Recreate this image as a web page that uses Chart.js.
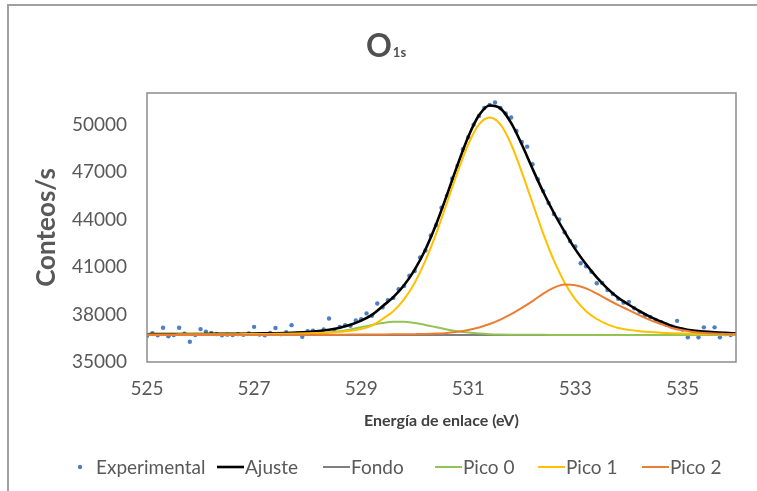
<!DOCTYPE html>
<html>
<head>
<meta charset="utf-8">
<script src="https://cdn.jsdelivr.net/npm/chart.js@4.4.1/dist/chart.umd.min.js"></script>
<style>
  html, body { margin: 0; padding: 0; background: #fff; }
  #wrap { position: relative; width: 757px; height: 491px; overflow: hidden; }
  #frame { position: absolute; left: 7px; top: 4px; width: 820px; height: 620px; border: 2px solid #a0a0a0; box-sizing: border-box; }
  canvas { position: absolute; left: 0; top: 0; }
</style>
</head>
<body>
<div id="wrap">
  <div id="frame"></div>
  <canvas id="grafico" width="757" height="491"></canvas>
</div>
<script>
// Energia de enlace (eV) para las curvas del ajuste
const energia = [525, 525.2, 525.4, 525.6, 525.8, 526, 526.2, 526.4, 526.6, 526.8,
  527, 527.2, 527.4, 527.6, 527.8, 528, 528.2, 528.4, 528.6, 528.8,
  529, 529.2, 529.4, 529.6, 529.8, 530, 530.2, 530.4, 530.6, 530.8,
  531, 531.2, 531.4, 531.6, 531.8, 532, 532.2, 532.4, 532.6, 532.8,
  533, 533.2, 533.4, 533.6, 533.8, 534, 534.2, 534.4, 534.6, 534.8,
  535, 535.2, 535.4, 535.6, 535.8, 536];

const ajuste = [36758, 36760, 36764, 36766, 36769, 36772, 36775, 36779, 36784, 36790,
  36797, 36806, 36817, 36832, 36855, 36893, 36952, 37043, 37170, 37358,
  37614, 37978, 38525, 39100, 39848, 40839, 42113, 43703, 45543, 47451,
  49236, 50588, 51211, 51029, 50107, 48741, 47214, 45743, 44416, 43226,
  42116, 41173, 40348, 39639, 39059, 38618, 38208, 37848, 37557, 37277,
  37107, 36992, 36918, 36870, 36838, 36813];

const fondo = [36700, 36700, 36700, 36700, 36700, 36700, 36700, 36700, 36700, 36700,
  36700, 36700, 36700, 36700, 36700, 36700, 36700, 36700, 36700, 36700,
  36700, 36700, 36700, 36700, 36700, 36700, 36700, 36700, 36700, 36700,
  36700, 36700, 36700, 36700, 36700, 36700, 36700, 36700, 36700, 36700,
  36700, 36700, 36700, 36700, 36700, 36700, 36700, 36700, 36700, 36700,
  36700, 36700, 36700, 36700, 36700, 36700];

const pico0 = [36708, 36708, 36709, 36709, 36709, 36710, 36710, 36711, 36712, 36713,
  36715, 36717, 36721, 36728, 36739, 36761, 36798, 36857, 36942, 37057,
  37200, 37340, 37465, 37540, 37540, 37465, 37340, 37200, 37057, 36942,
  36857, 36798, 36761, 36739, 36728, 36722, 36718, 36715, 36713, 36712,
  36711, 36710, 36710, 36709, 36709, 36708, 36708, 36708, 36707, 36707,
  36707, 36707, 36706, 36706, 36706, 36706];

const pico1 = [36740, 36742, 36744, 36746, 36748, 36750, 36752, 36755, 36758, 36762,
  36766, 36772, 36778, 36785, 36795, 36810, 36830, 36860, 36900, 36970,
  37080, 37300, 37718, 38213, 38955, 40014, 41403, 43108, 45046, 46999,
  48759, 50010, 50450, 50010, 48759, 46999, 45046, 43108, 41403, 40014,
  38955, 38213, 37718, 37380, 37150, 37030, 36950, 36890, 36850, 36820,
  36800, 36785, 36772, 36764, 36757, 36752];

const pico2 = [36710, 36710, 36711, 36711, 36712, 36712, 36713, 36713, 36714, 36715,
  36716, 36717, 36718, 36719, 36721, 36722, 36724, 36726, 36728, 36731,
  36734, 36738, 36742, 36747, 36753, 36760, 36770, 36795, 36840, 36910,
  37020, 37180, 37400, 37680, 38020, 38420, 38850, 39320, 39700, 39900,
  39850, 39650, 39320, 38950, 38600, 38280, 37950, 37650, 37400, 37150,
  37000, 36900, 36840, 36800, 36775, 36755];

// Puntos experimentales
const energiaExp = [525.0, 525.1, 525.2, 525.3, 525.4, 525.5, 525.6, 525.7, 525.8, 525.9,
  526.0, 526.1, 526.2, 526.3, 526.4, 526.5, 526.6, 526.7, 526.8, 526.9,
  527.0, 527.1, 527.2, 527.3, 527.4, 527.5, 527.6, 527.7, 527.8, 527.9,
  528.0, 528.1, 528.2, 528.3, 528.4, 528.5, 528.6, 528.7, 528.8, 528.9,
  529.0, 529.1, 529.2, 529.3, 529.4, 529.5, 529.6, 529.7, 529.8, 529.9,
  530.0, 530.1, 530.2, 530.3, 530.4, 530.5, 530.6, 530.7, 530.8, 530.9,
  531.0, 531.1, 531.2, 531.3, 531.4, 531.5, 531.6, 531.7, 531.8, 531.9,
  532.0, 532.1, 532.2, 532.3, 532.4, 532.5, 532.6, 532.7, 532.8, 532.9,
  533.0, 533.1, 533.2, 533.3, 533.4, 533.5, 533.6, 533.7, 533.8, 533.9,
  534.0, 534.1, 534.2, 534.3, 534.4, 534.5, 534.6, 534.7, 534.8, 534.9,
  535.0, 535.1, 535.2, 535.3, 535.4, 535.5, 535.6, 535.7, 535.8, 535.9, 536.0];

const conteosExp = [36650, 36820, 36690, 37160, 36620, 36700, 37160, 36790, 36280, 36710,
  37080, 36920, 36840, 36760, 36690, 36730, 36700, 36760, 36720, 36800,
  37220, 36740, 36690, 36830, 37150, 36760, 36880, 37330, 36790, 36600,
  36940, 36980, 36890, 37060, 37750, 37020, 37210, 37330, 37290, 37620,
  37700, 38070, 37920, 38700, 38450, 38900, 39050, 39600, 39800, 40450,
  40750, 41600, 42050, 43000, 43650, 44750, 45500, 46600, 47400, 48450,
  49200, 50000, 50550, 51050, 51250, 51400, 51050, 50700, 50450, 49600,
  48900, 48610, 47500, 46550, 45800, 45050, 44350, 44010, 43200, 42650,
  42300, 41240, 41050, 40700, 39980, 40000, 39550, 39300, 39000, 38750,
  38800, 38400, 38170, 37950, 37850, 37650, 37500, 37350, 37250, 37600,
  37050, 36560, 36900, 36560, 37190, 36800, 37190, 36560, 36760, 36700, 36780];

const ticksX = [525, 527, 529, 531, 533, 535];
const ticksY = [35000, 38000, 41000, 44000, 47000, 50000];

const gris = '#595959';
Chart.defaults.font.family = 'Lato, "Open Sans", sans-serif';

function serie(valores) {
    return valores.map(function(v, i) { return {x: energia[i], y: v}; });
}

function linea(label, valores, color, ancho, orden) {
    return {
        label: label,
        data: serie(valores),
        borderColor: color,
        backgroundColor: color,
        borderWidth: ancho,
        pointRadius: 0,
        showLine: true,
        cubicInterpolationMode: 'monotone',
        order: orden
    };
}

// titulo, marco del area y leyenda
const decorado = {
    id: 'decorado',
    afterDatasetsDraw(chart) {
        const ctx = chart.ctx, a = chart.chartArea;
        ctx.save();
        ctx.strokeStyle = '#8c8c8c';
        ctx.lineWidth = 1.5;
        ctx.strokeRect(a.left, a.top, a.right - a.left, a.bottom - a.top);
        ctx.restore();
    },
    afterDraw(chart) {
        const ctx = chart.ctx;
        ctx.save();
        ctx.fillStyle = '#505050';
        ctx.textBaseline = 'alphabetic';
        ctx.font = 'bold 32px Lato';
        ctx.fillText('O', 366, 57);
        const w = ctx.measureText('O').width;
        ctx.font = 'bold 13px Lato';
        ctx.fillText('1s', 366 + w + 1, 57);

        // leyenda
        const inicios = [77, 217, 323, 435, 538, 642];
        const y = 467;
        ctx.font = '19px Lato';
        ctx.textBaseline = 'middle';
        chart.data.datasets.forEach(function(ds, i) {
            const x0 = inicios[i];
            let xt;
            if (ds.showLine === false) {
                ctx.fillStyle = ds.backgroundColor;
                ctx.beginPath();
                ctx.arc(x0 + 3, y, 2.2, 0, Math.PI * 2);
                ctx.fill();
                xt = x0 + 19;
            } else {
                ctx.strokeStyle = ds.borderColor;
                ctx.lineWidth = ds.borderWidth;
                ctx.beginPath();
                ctx.moveTo(x0, y);
                ctx.lineTo(x0 + 27, y);
                ctx.stroke();
                xt = x0 + 28;
            }
            ctx.fillStyle = gris;
            ctx.fillText(ds.label, xt, y + 1);
        });
        ctx.restore();
    }
};

new Chart(document.getElementById('grafico'), {
    type: 'scatter',
    data: {
        datasets: [
            {
                label: 'Experimental',
                data: energiaExp.map(function(x, i) { return {x: x, y: conteosExp[i]}; }),
                showLine: false,
                pointRadius: 2.2,
                pointBorderWidth: 0,
                backgroundColor: '#4f7fc0',
                borderColor: '#4f7fc0',
                order: 6
            },
            linea('Ajuste', ajuste, '#000000', 2.6, 5),
            linea('Fondo', fondo, '#7f7f7f', 2, 4),
            linea('Pico 0', pico0, '#92c353', 2, 3),
            linea('Pico 1', pico1, '#ffc000', 2, 2),
            linea('Pico 2', pico2, '#ed7d31', 2, 1)
        ]
    },
    options: {
        responsive: false,
        animation: false,
        layout: { padding: { top: 93, right: 21, bottom: 0, left: 0 } },
        plugins: {
            legend: { display: false },
            title: { display: false },
            tooltip: { enabled: false }
        },
        scales: {
            x: {
                type: 'linear',
                min: 525,
                max: 536,
                afterBuildTicks: function(s) { s.ticks = ticksX.map(function(v) { return {value: v}; }); },
                afterFit: function(s) { s.height = 129; },
                grid: { display: false, drawTicks: false },
                border: { display: false },
                ticks: {
                    color: gris, font: { size: 19 }, padding: 15, maxRotation: 0, autoSkip: false,
                    callback: function(v) { return String(v); }
                },
                title: {
                    display: true,
                    text: 'Energía de enlace (eV)',
                    color: '#404040',
                    font: { size: 16, weight: 'bold' },
                    padding: { top: 0, bottom: 61 }
                }
            },
            y: {
                min: 35000,
                max: 52000,
                afterBuildTicks: function(s) { s.ticks = ticksY.map(function(v) { return {value: v}; }); },
                afterFit: function(s) { s.width = 147; },
                grid: { display: false, drawTicks: false },
                border: { display: false },
                ticks: {
                    color: gris, font: { size: 19 }, padding: 20, autoSkip: false,
                    callback: function(v) { return String(v); }
                },
                title: {
                    display: true,
                    text: 'Conteos/s',
                    color: gris,
                    font: { size: 26, weight: 'bold' },
                    padding: { top: 31, bottom: 0 }
                }
            }
        }
    },
    plugins: [decorado]
});
</script>
</body>
</html>
